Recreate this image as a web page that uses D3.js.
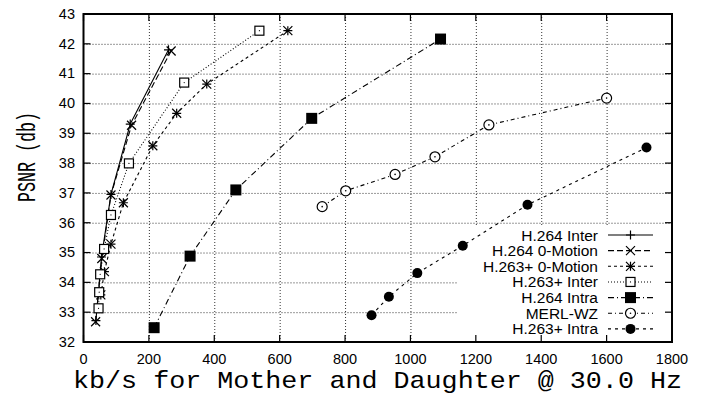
<!DOCTYPE html>
<html>
<head>
<meta charset="utf-8">
<script src="https://cdn.jsdelivr.net/npm/d3@7"></script>
<style>
  body { margin: 0; background: #fff; }
  svg { display: block; }
</style>
</head>
<body>
<svg id="chart"></svg>
<script>
//series names, in legend order
const seriesNames = ["H.264 Inter", "H.264 0-Motion", "H.263+ 0-Motion", "H.263+ Inter", "H.264 Intra", "MERL-WZ", "H.263+ Intra"];

//rate (kb/s) and PSNR (db) per series
const h264InterRate = [38, 55, 84, 143, 260];
const h264InterPsnr = [32.72, 34.85, 36.95, 39.31, 41.8];
const h264ZeroRate = [37, 56, 84, 147, 268];
const h264ZeroPsnr = [32.68, 34.8, 36.93, 39.27, 41.76];
const h263ZeroRate = [53, 64, 84, 122, 212, 285, 377, 625];
const h263ZeroPsnr = [33.58, 34.36, 35.28, 36.67, 38.58, 39.67, 40.65, 42.44];
const h263InterRate = [46, 48, 51, 63, 84, 139, 308, 538];
const h263InterPsnr = [33.13, 33.67, 34.27, 35.12, 36.26, 37.99, 40.7, 42.44];
const h264IntraRate = [216, 326, 466, 698, 1092];
const h264IntraPsnr = [32.48, 34.88, 37.1, 39.5, 42.16];
const merlRate = [730, 802, 953, 1075, 1240, 1600];
const merlPsnr = [36.54, 37.07, 37.62, 38.21, 39.28, 40.18];
const h263IntraRate = [881, 934, 1021, 1160, 1358, 1722];
const h263IntraPsnr = [32.9, 33.52, 34.31, 35.23, 36.6, 38.52];

//axis ticks
const xTicks = [0, 200, 400, 600, 800, 1000, 1200, 1400, 1600, 1800];
const yTicks = [32, 33, 34, 35, 36, 37, 38, 39, 40, 41, 42, 43];

const width = 705, height = 396;
const svg = d3.select("#chart").attr("width", width).attr("height", height);

const x = d3.scaleLinear().domain([0, 1800]).range([83.5, 672]);
const y = d3.scaleLinear().domain([32, 43]).range([342, 14]);

const sansFont = "'Liberation Sans', Arial, sans-serif";
const monoFont = "'Liberation Mono', 'Courier New', monospace";

//gnuplot-like line and point styles
const styles = [
  { dash: null, point: "plus" },
  { dash: "6,3", point: "cross" },
  { dash: "3,3", point: "star" },
  { dash: "1,2", point: "box" },
  { dash: "6,3,1,3", point: "boxFilled" },
  { dash: "4,3,1,3", point: "circle" },
  { dash: "3,4", point: "circleFilled" }
];

const series = [
  [h264InterRate, h264InterPsnr],
  [h264ZeroRate, h264ZeroPsnr],
  [h263ZeroRate, h263ZeroPsnr],
  [h263InterRate, h263InterPsnr],
  [h264IntraRate, h264IntraPsnr],
  [merlRate, merlPsnr],
  [h263IntraRate, h263IntraPsnr]
].map((s, i) => ({
  name: seriesNames[i],
  style: styles[i],
  values: s[0].map((r, j) => ({ rate: r, psnr: s[1][j] }))
}));

//grid
const grid = svg.append("g")
  .attr("stroke", "#333")
  .attr("stroke-width", 1)
  .attr("stroke-dasharray", "1,2");
grid.selectAll("line.gx")
  .data(xTicks.slice(1, -1))
  .join("line")
  .attr("x1", d => x(d) + 0.5).attr("x2", d => x(d) + 0.5)
  .attr("y1", y(43)).attr("y2", y(32));
grid.selectAll("line.gy")
  .data(yTicks.slice(1, -1))
  .join("line")
  .attr("x1", x(0)).attr("x2", x(1800))
  .attr("y1", d => y(d) + 0.5).attr("y2", d => y(d) + 0.5);

//opaque key area
const keyTop = 226;
svg.append("rect")
  .attr("x", 458).attr("y", keyTop)
  .attr("width", x(1800) - 458).attr("height", y(32) - keyTop)
  .attr("fill", "#fff");

//tick marks on all four sides
const ticks = svg.append("g").attr("stroke", "#000").attr("stroke-width", 1.2);
xTicks.forEach(t => {
  ticks.append("line").attr("x1", x(t)).attr("x2", x(t)).attr("y1", y(32)).attr("y2", y(32) - 7);
  ticks.append("line").attr("x1", x(t)).attr("x2", x(t)).attr("y1", y(43)).attr("y2", y(43) + 7);
});
yTicks.forEach(t => {
  ticks.append("line").attr("x1", x(0)).attr("x2", x(0) + 7).attr("y1", y(t)).attr("y2", y(t));
  ticks.append("line").attr("x1", x(1800)).attr("x2", x(1800) - 7).attr("y1", y(t)).attr("y2", y(t));
});

//frame
svg.append("rect")
  .attr("x", x(0)).attr("y", y(43))
  .attr("width", x(1800) - x(0)).attr("height", y(32) - y(43))
  .attr("fill", "none").attr("stroke", "#000").attr("stroke-width", 2);

//tick labels
svg.append("g")
  .attr("font-family", sansFont).attr("font-size", 14.5).attr("text-anchor", "middle")
  .selectAll("text").data(xTicks).join("text")
  .attr("x", x).attr("y", 364)
  .text(d => d);
svg.append("g")
  .attr("font-family", sansFont).attr("font-size", 14.5).attr("text-anchor", "end")
  .selectAll("text").data(yTicks).join("text")
  .attr("x", 75).attr("y", d => y(d) + 4.8)
  .text(d => d);

//axis titles
svg.append("text")
  .attr("x", 377.5).attr("y", 388)
  .attr("font-family", monoFont).attr("font-size", 24)
  .attr("text-anchor", "middle")
  .attr("textLength", 609).attr("lengthAdjust", "spacingAndGlyphs")
  .text("kb/s for Mother and Daughter @ 30.0 Hz");
svg.append("text")
  .attr("transform", "translate(35,157) rotate(-90)")
  .attr("font-family", monoFont).attr("font-size", 25)
  .attr("text-anchor", "middle")
  .attr("textLength", 90).attr("lengthAdjust", "spacingAndGlyphs")
  .text("PSNR (db)");

//point symbols
function drawPoint(g, type, cx, cy) {
  const s = 4.5;
  if (type === "plus" || type === "star") {
    g.append("path").attr("d", `M${cx - s},${cy}H${cx + s}M${cx},${cy - s}V${cy + s}`)
      .attr("stroke", "#000").attr("stroke-width", 1.2);
  }
  if (type === "cross" || type === "star") {
    g.append("path").attr("d", `M${cx - s},${cy - s}L${cx + s},${cy + s}M${cx - s},${cy + s}L${cx + s},${cy - s}`)
      .attr("stroke", "#000").attr("stroke-width", 1.2);
  }
  if (type === "box") {
    g.append("rect").attr("x", cx - 4.5).attr("y", cy - 4.5).attr("width", 9).attr("height", 9)
      .attr("fill", "#fff").attr("stroke", "#000").attr("stroke-width", 1.2);
    g.append("circle").attr("cx", cx).attr("cy", cy).attr("r", 0.6).attr("fill", "#000");
  }
  if (type === "boxFilled") {
    g.append("rect").attr("x", cx - 5.5).attr("y", cy - 5.5).attr("width", 11).attr("height", 11)
      .attr("fill", "#000");
  }
  if (type === "circle") {
    g.append("circle").attr("cx", cx).attr("cy", cy).attr("r", 5)
      .attr("fill", "#fff").attr("stroke", "#000").attr("stroke-width", 1.2);
    g.append("circle").attr("cx", cx).attr("cy", cy).attr("r", 0.8).attr("fill", "#000");
  }
  if (type === "circleFilled") {
    g.append("circle").attr("cx", cx).attr("cy", cy).attr("r", 5).attr("fill", "#000");
  }
}

//series lines and points
const line = d3.line().x(d => x(d.rate)).y(d => y(d.psnr));
series.forEach(s => {
  const g = svg.append("g");
  g.append("path")
    .attr("d", line(s.values))
    .attr("fill", "none").attr("stroke", "#000").attr("stroke-width", 1.1)
    .attr("stroke-dasharray", s.style.dash);
  s.values.forEach(v => drawPoint(g, s.style.point, x(v.rate), y(v.psnr)));
});

//legend
const legend = svg.append("g");
series.forEach((s, i) => {
  const ly = 235 + i * 15.65;
  legend.append("text")
    .attr("x", 598).attr("y", ly + 5.5)
    .attr("font-family", sansFont).attr("font-size", 15.5)
    .attr("text-anchor", "end")
    .text(s.name);
  legend.append("line")
    .attr("x1", 608).attr("x2", 653).attr("y1", ly).attr("y2", ly)
    .attr("stroke", "#000").attr("stroke-width", 1.1)
    .attr("stroke-dasharray", s.style.dash);
  drawPoint(legend, s.style.point, 630.5, ly);
});
</script>
</body>
</html>
